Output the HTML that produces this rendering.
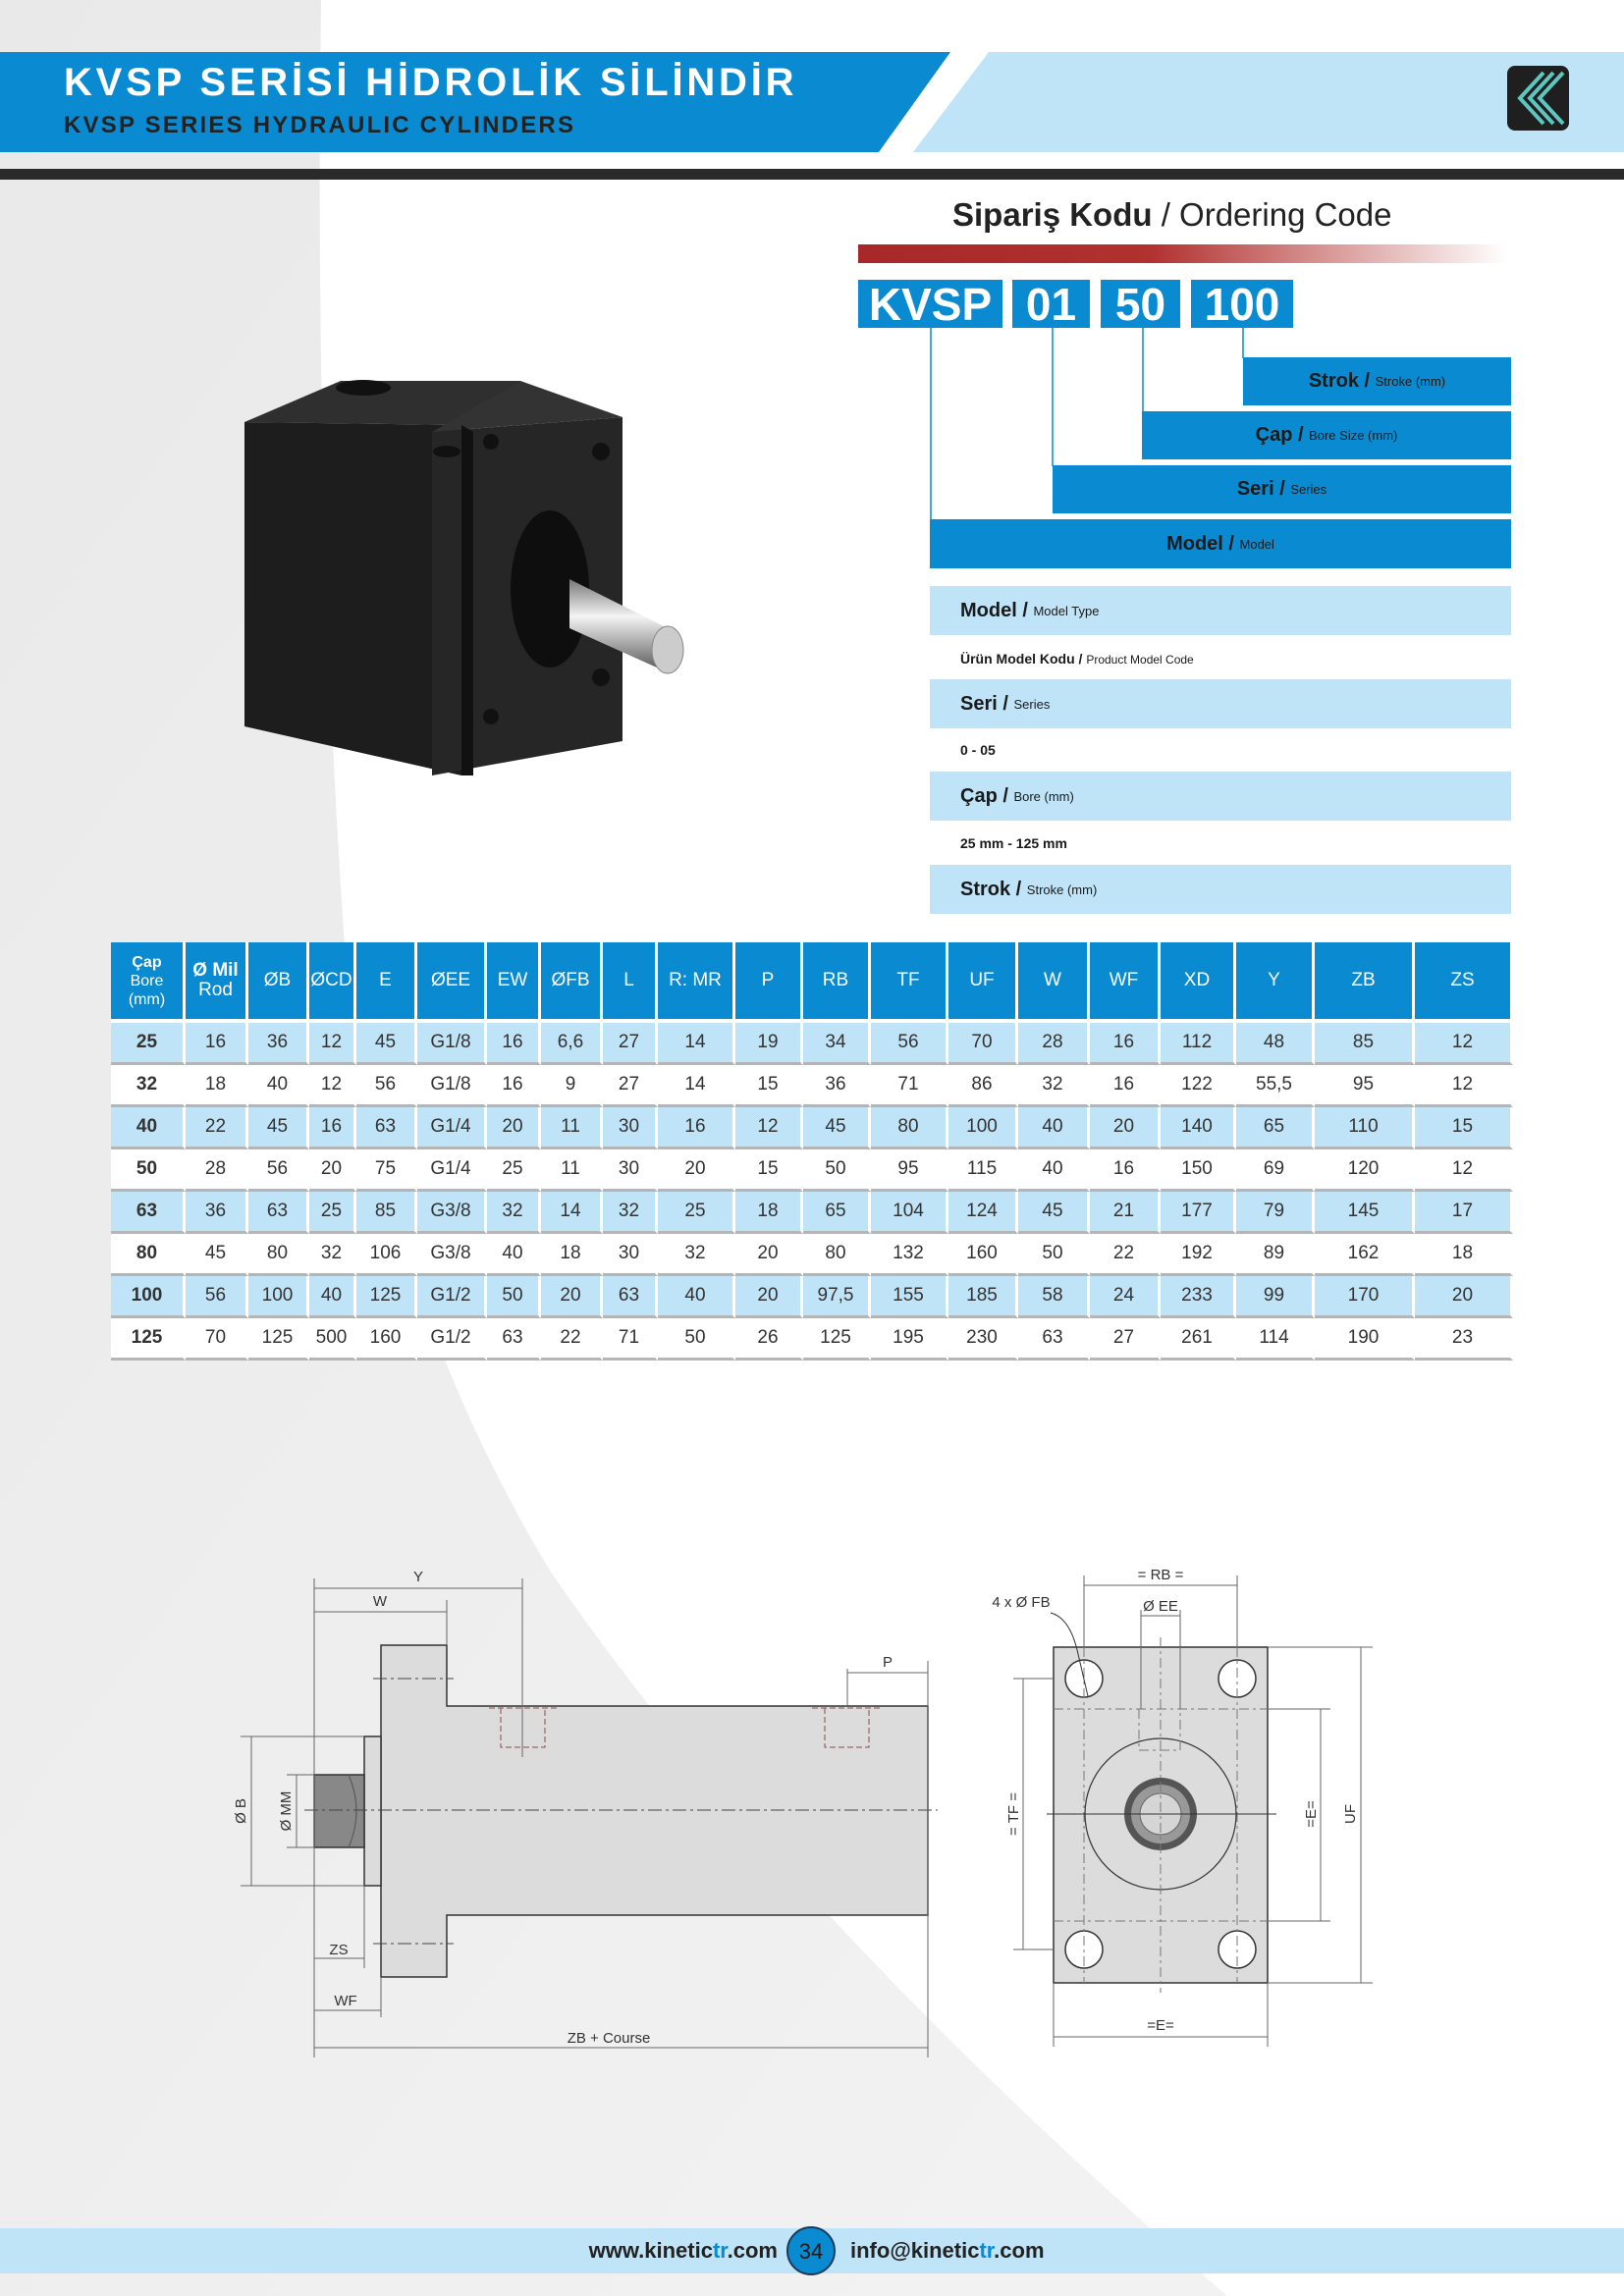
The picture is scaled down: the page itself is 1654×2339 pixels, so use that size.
<!DOCTYPE html>
<html><head><meta charset="utf-8">
<style>
*{margin:0;padding:0;box-sizing:border-box}
body{width:1654px;height:2339px;position:relative;overflow:hidden;background:#fff;font-family:"Liberation Sans",sans-serif;color:#222}
.a{position:absolute}
.bar{position:absolute;background:#0a8ad0;color:#1a1a1a;display:flex;align-items:center;justify-content:center;font-size:20px;font-weight:bold}
.bar small,.lr small{font-size:13px;font-weight:normal}
.lr{position:absolute;left:947px;width:592px;height:50px;background:#bfe3f7;display:flex;align-items:center;padding-left:31px;font-size:20px;font-weight:bold;color:#1a1a1a}
.sm{position:absolute;left:978px;font-size:14px;font-weight:bold;color:#1a1a1a}
.code{position:absolute;top:285px;height:49px;background:#0a8ad0;color:#fff;font-weight:bold;font-size:46px;display:flex;align-items:center;justify-content:center}
table{position:absolute;left:113px;top:960px;width:1428px;border-collapse:separate;border-spacing:0;table-layout:fixed}
td,th{box-sizing:content-box;text-align:center;font-size:19px;color:#333;border-right:3px solid #fff;font-weight:normal;padding:0}
th{background:#0a8ad0;color:#fff;height:78px;font-size:19px;line-height:20px;border-bottom:4px solid #fff}
td{height:40px;border-bottom:3px solid #b5b5b5;background:#fff}
tr.b td{background:#bfe3f7}
td:first-child{font-weight:bold}
</style></head><body>
<svg class="a" style="left:0;top:0" width="1654" height="2339">
<defs><linearGradient id="bg" x1="0" y1="0" x2="1" y2="1"><stop offset="0" stop-color="#e9e9e9"/><stop offset="1" stop-color="#f4f4f4"/></linearGradient>
<linearGradient id="rg" x1="0" x2="1"><stop offset="0" stop-color="#a8282a"/><stop offset="0.45" stop-color="#b1312f"/><stop offset="1" stop-color="#fff"/></linearGradient>
<linearGradient id="rod" x1="0" y1="0" x2="0" y2="1"><stop offset="0" stop-color="#777"/><stop offset="0.4" stop-color="#f4f4f4"/><stop offset="1" stop-color="#555"/></linearGradient></defs>
<rect width="1654" height="2339" fill="url(#bg)"/>
<path d="M327,0 L1654,0 L1654,2339 L1250,2339 Q800,1950 560,1600 Q380,1300 350,950 Q320,500 327,0 Z" fill="#fff"/>
<path d="M0,53 L968,53 L895,155 L0,155 Z" fill="#0a8ad0"/>
<path d="M1007,53 L1654,53 L1654,155 L930,155 Z" fill="#bfe3f7"/>
<rect x="1535" y="67" width="63" height="66" rx="8" fill="#1f1f1f"/>
<path d="M1572,74 L1548,100 L1572,126 M1582,74 L1558,100 L1582,126 M1592,74 L1568,100 L1592,126" stroke="#5ec6c0" stroke-width="4" fill="none"/>
<rect x="0" y="172" width="1654" height="11" fill="#2a2a2a"/>
<rect x="874" y="249" width="661" height="19" fill="url(#rg)"/>
<g stroke="#0a8ad0" stroke-width="1.5"><line x1="948" y1="334" x2="948" y2="530"/><line x1="1072" y1="334" x2="1072" y2="475"/><line x1="1164" y1="334" x2="1164" y2="420"/><line x1="1266" y1="334" x2="1266" y2="365"/></g>
<!-- product -->
<polygon points="249,430 347,388 530,388 470,433" fill="#2f2f2f"/>
<polygon points="249,430 470,433 470,790 249,740" fill="#1d1d1d"/>
<polygon points="440,440 634,425 634,755 440,790" fill="#262626"/>
<polygon points="440,440 530,388 634,425" fill="#333"/>
<polygon points="470,433 482,440 482,790 470,790" fill="#111"/>
<ellipse cx="560" cy="600" rx="40" ry="80" fill="#0e0e0e"/>
<ellipse cx="370" cy="395" rx="28" ry="8" fill="#111"/><ellipse cx="455" cy="460" rx="14" ry="6" fill="#111"/>
<circle cx="612" cy="460" r="9" fill="#111"/><circle cx="612" cy="690" r="9" fill="#111"/><circle cx="500" cy="450" r="8" fill="#111"/><circle cx="500" cy="730" r="8" fill="#111"/>
<polygon points="580,590 680,640 680,685 580,640" fill="url(#rod)"/>
<ellipse cx="680" cy="662" rx="16" ry="24" fill="#ccc" stroke="#888"/>
<!-- side view -->
<g stroke="#333" stroke-width="1.5" fill="#dcdcdc">
<path d="M388,1676 L455,1676 L455,1738 L945,1738 L945,1951 L455,1951 L455,2014 L388,2014 Z"/>
<rect x="371" y="1769" width="17" height="152"/>
<rect x="320" y="1808" width="51" height="74" fill="#888"/>
</g>
<path d="M355,1808 Q371,1845 355,1882" stroke="#555" fill="none"/>
<g stroke="#8a4a4a" stroke-width="1" stroke-dasharray="6,3" fill="none">
<path d="M498,1740 L568,1740 M510,1740 L510,1780 L555,1780 L555,1740"/><path d="M827,1740 L898,1740 M840,1740 L840,1780 L885,1780 L885,1740"/></g>
<g stroke="#444" stroke-width="1" stroke-dasharray="14,4,3,4"><line x1="310" y1="1844" x2="955" y2="1844"/><line x1="380" y1="1710" x2="462" y2="1710"/><line x1="380" y1="1980" x2="462" y2="1980"/></g>
<g stroke="#666" stroke-width="1" fill="none">
<line x1="320" y1="1608" x2="320" y2="2096"/><line x1="532" y1="1608" x2="532" y2="1790"/><line x1="455" y1="1630" x2="455" y2="1676"/>
<line x1="945" y1="1692" x2="945" y2="2096"/><line x1="863" y1="1700" x2="863" y2="1738"/>
<line x1="320" y1="1618" x2="532" y2="1618"/><line x1="320" y1="1642" x2="455" y2="1642"/><line x1="863" y1="1704" x2="945" y2="1704"/>
<line x1="256" y1="1769" x2="256" y2="1921"/><line x1="245" y1="1769" x2="371" y2="1769"/><line x1="245" y1="1921" x2="371" y2="1921"/>
<line x1="302" y1="1808" x2="302" y2="1882"/><line x1="292" y1="1808" x2="320" y2="1808"/><line x1="292" y1="1882" x2="320" y2="1882"/>
<line x1="371" y1="1921" x2="371" y2="2005"/><line x1="388" y1="2014" x2="388" y2="2055"/>
<line x1="320" y1="1995" x2="371" y2="1995"/><line x1="320" y1="2048" x2="388" y2="2048"/><line x1="320" y1="2086" x2="945" y2="2086"/>
</g>
<g font-family="Liberation Sans" font-size="15" fill="#333" text-anchor="middle">
<text x="426" y="1611">Y</text><text x="387" y="1636">W</text><text x="904" y="1698">P</text>
<text x="345" y="1991">ZS</text><text x="352" y="2043">WF</text><text x="620" y="2081">ZB + Course</text>
<text transform="translate(250,1845) rotate(-90)">Ø B</text><text transform="translate(296,1845) rotate(-90)">Ø MM</text>
</g>
<!-- front view -->
<rect x="1073" y="1678" width="218" height="342" fill="#dcdcdc" stroke="#333" stroke-width="1.5"/>
<g fill="#fff" stroke="#333" stroke-width="1.5"><circle cx="1104" cy="1710" r="19"/><circle cx="1260" cy="1710" r="19"/><circle cx="1104" cy="1986" r="19"/><circle cx="1260" cy="1986" r="19"/></g>
<circle cx="1182" cy="1848" r="77" fill="none" stroke="#333" stroke-width="1.2"/>
<circle cx="1182" cy="1848" r="37" fill="#555"/><circle cx="1182" cy="1848" r="30" fill="#999"/><circle cx="1182" cy="1848" r="21" fill="#d5d5d5" stroke="#666"/>
<g stroke="#777" stroke-width="1" stroke-dasharray="10,4,3,4" fill="none">
<line x1="1073" y1="1741" x2="1291" y2="1741"/><line x1="1073" y1="1957" x2="1291" y2="1957"/><line x1="1182" y1="1668" x2="1182" y2="2030"/>
<line x1="1104" y1="1678" x2="1104" y2="2020"/><line x1="1260" y1="1678" x2="1260" y2="2020"/>
<path d="M1160,1741 L1160,1783 L1202,1783 L1202,1741"/></g>
<line x1="1066" y1="1848" x2="1300" y2="1848" stroke="#333"/>
<g stroke="#666" stroke-width="1" fill="none">
<line x1="1104" y1="1605" x2="1104" y2="1678"/><line x1="1260" y1="1605" x2="1260" y2="1678"/><line x1="1104" y1="1615" x2="1260" y2="1615"/>
<line x1="1162" y1="1646" x2="1202" y2="1646"/><line x1="1162" y1="1640" x2="1162" y2="1741"/><line x1="1202" y1="1640" x2="1202" y2="1741"/>
<line x1="1042" y1="1710" x2="1042" y2="1986"/><line x1="1032" y1="1710" x2="1073" y2="1710"/><line x1="1032" y1="1986" x2="1073" y2="1986"/>
<line x1="1345" y1="1741" x2="1345" y2="1957"/><line x1="1291" y1="1741" x2="1355" y2="1741"/><line x1="1291" y1="1957" x2="1355" y2="1957"/>
<line x1="1386" y1="1678" x2="1386" y2="2020"/><line x1="1291" y1="1678" x2="1398" y2="1678"/><line x1="1291" y1="2020" x2="1398" y2="2020"/>
<line x1="1073" y1="2020" x2="1073" y2="2085"/><line x1="1291" y1="2020" x2="1291" y2="2085"/><line x1="1073" y1="2075" x2="1291" y2="2075"/>
<path d="M1070,1643 Q1090,1648 1098,1685 L1108,1728" stroke="#333"/>
</g>
<g font-family="Liberation Sans" font-size="15" fill="#333" text-anchor="middle">
<text x="1182" y="1609">= RB =</text><text x="1182" y="1641">Ø EE</text><text x="1040" y="1637">4 x Ø FB</text><text x="1182" y="2068">=E=</text>
<text transform="translate(1037,1848) rotate(-90)">= TF =</text><text transform="translate(1340,1848) rotate(-90)">=E=</text><text transform="translate(1380,1848) rotate(-90)">UF</text>
</g>
<!-- footer -->
<rect x="0" y="2270" width="1654" height="46" fill="#bfe3f7"/>
<circle cx="826" cy="2293" r="24" fill="#0a8ad0" stroke="#1a3a5a" stroke-width="2"/>
<text x="826" y="2301" font-family="Liberation Sans" font-size="22" fill="#1a1a1a" text-anchor="middle">34</text>
<text x="792" y="2300" font-family="Liberation Sans" font-size="22" font-weight="bold" fill="#222" text-anchor="end">www.kinetic<tspan fill="#0a8ad0">tr</tspan>.com</text>
<text x="866" y="2300" font-family="Liberation Sans" font-size="22" font-weight="bold" fill="#222">info@kinetic<tspan fill="#0a8ad0">tr</tspan>.com</text>
</svg>

<div class="a" style="left:65px;top:62px;font-size:40px;font-weight:bold;color:#fff;letter-spacing:3.8px;white-space:nowrap">KVSP SERİSİ HİDROLİK SİLİNDİR</div>
<div class="a" style="left:65px;top:114px;font-size:24px;font-weight:bold;color:#222;letter-spacing:2.2px;white-space:nowrap">KVSP SERIES HYDRAULIC CYLINDERS</div>

<div class="a" style="left:970px;top:200px;font-size:33px;color:#222;white-space:nowrap"><b>Sipariş Kodu</b> / Ordering Code</div>
<div class="code" style="left:874px;width:147px">KVSP</div>
<div class="code" style="left:1031px;width:79px">01</div>
<div class="code" style="left:1121px;width:81px">50</div>
<div class="code" style="left:1213px;width:104px">100</div>

<div class="bar" style="left:1266px;top:364px;width:273px;height:49px">Strok /&nbsp;<small>Stroke (mm)</small></div>
<div class="bar" style="left:1163px;top:419px;width:376px;height:49px">Çap /&nbsp;<small>Bore Size (mm)</small></div>
<div class="bar" style="left:1072px;top:474px;width:467px;height:49px">Seri /&nbsp;<small>Series</small></div>
<div class="bar" style="left:947px;top:529px;width:592px;height:50px">Model /&nbsp;<small>Model</small></div>

<div class="lr" style="top:597px">Model /&nbsp;<small>Model Type</small></div>
<div class="sm" style="top:663px">Ürün Model Kodu / <span style="font-weight:normal;font-size:12px">Product Model Code</span></div>
<div class="lr" style="top:692px">Seri /&nbsp;<small>Series</small></div>
<div class="sm" style="top:756px">0 - 05</div>
<div class="lr" style="top:786px">Çap /&nbsp;<small>Bore (mm)</small></div>
<div class="sm" style="top:851px">25 mm - 125 mm</div>
<div class="lr" style="top:881px">Strok /&nbsp;<small>Stroke (mm)</small></div>

<table>
<colgroup><col style="width:76px"><col style="width:64px"><col style="width:62px"><col style="width:48px"><col style="width:62px"><col style="width:71px"><col style="width:55px"><col style="width:63px"><col style="width:56px"><col style="width:79px"><col style="width:69px"><col style="width:69px"><col style="width:79px"><col style="width:71px"><col style="width:73px"><col style="width:72px"><col style="width:77px"><col style="width:80px"><col style="width:102px"><col style="width:100px"></colgroup>
<tr class="h"><th style="font-size:16px;line-height:19px"><b>Çap</b><br>Bore<br>(mm)</th><th><b>Ø Mil</b><br>Rod</th><th>ØB</th><th>ØCD</th><th>E</th><th>ØEE</th><th>EW</th><th>ØFB</th><th>L</th><th>R: MR</th><th>P</th><th>RB</th><th>TF</th><th>UF</th><th>W</th><th>WF</th><th>XD</th><th>Y</th><th>ZB</th><th>ZS</th></tr>
<tr class="b"><td>25</td><td>16</td><td>36</td><td>12</td><td>45</td><td>G1/8</td><td>16</td><td>6,6</td><td>27</td><td>14</td><td>19</td><td>34</td><td>56</td><td>70</td><td>28</td><td>16</td><td>112</td><td>48</td><td>85</td><td>12</td></tr>
<tr><td>32</td><td>18</td><td>40</td><td>12</td><td>56</td><td>G1/8</td><td>16</td><td>9</td><td>27</td><td>14</td><td>15</td><td>36</td><td>71</td><td>86</td><td>32</td><td>16</td><td>122</td><td>55,5</td><td>95</td><td>12</td></tr>
<tr class="b"><td>40</td><td>22</td><td>45</td><td>16</td><td>63</td><td>G1/4</td><td>20</td><td>11</td><td>30</td><td>16</td><td>12</td><td>45</td><td>80</td><td>100</td><td>40</td><td>20</td><td>140</td><td>65</td><td>110</td><td>15</td></tr>
<tr><td>50</td><td>28</td><td>56</td><td>20</td><td>75</td><td>G1/4</td><td>25</td><td>11</td><td>30</td><td>20</td><td>15</td><td>50</td><td>95</td><td>115</td><td>40</td><td>16</td><td>150</td><td>69</td><td>120</td><td>12</td></tr>
<tr class="b"><td>63</td><td>36</td><td>63</td><td>25</td><td>85</td><td>G3/8</td><td>32</td><td>14</td><td>32</td><td>25</td><td>18</td><td>65</td><td>104</td><td>124</td><td>45</td><td>21</td><td>177</td><td>79</td><td>145</td><td>17</td></tr>
<tr><td>80</td><td>45</td><td>80</td><td>32</td><td>106</td><td>G3/8</td><td>40</td><td>18</td><td>30</td><td>32</td><td>20</td><td>80</td><td>132</td><td>160</td><td>50</td><td>22</td><td>192</td><td>89</td><td>162</td><td>18</td></tr>
<tr class="b"><td>100</td><td>56</td><td>100</td><td>40</td><td>125</td><td>G1/2</td><td>50</td><td>20</td><td>63</td><td>40</td><td>20</td><td>97,5</td><td>155</td><td>185</td><td>58</td><td>24</td><td>233</td><td>99</td><td>170</td><td>20</td></tr>
<tr><td>125</td><td>70</td><td>125</td><td>500</td><td>160</td><td>G1/2</td><td>63</td><td>22</td><td>71</td><td>50</td><td>26</td><td>125</td><td>195</td><td>230</td><td>63</td><td>27</td><td>261</td><td>114</td><td>190</td><td>23</td></tr>
</table>
</body></html>
